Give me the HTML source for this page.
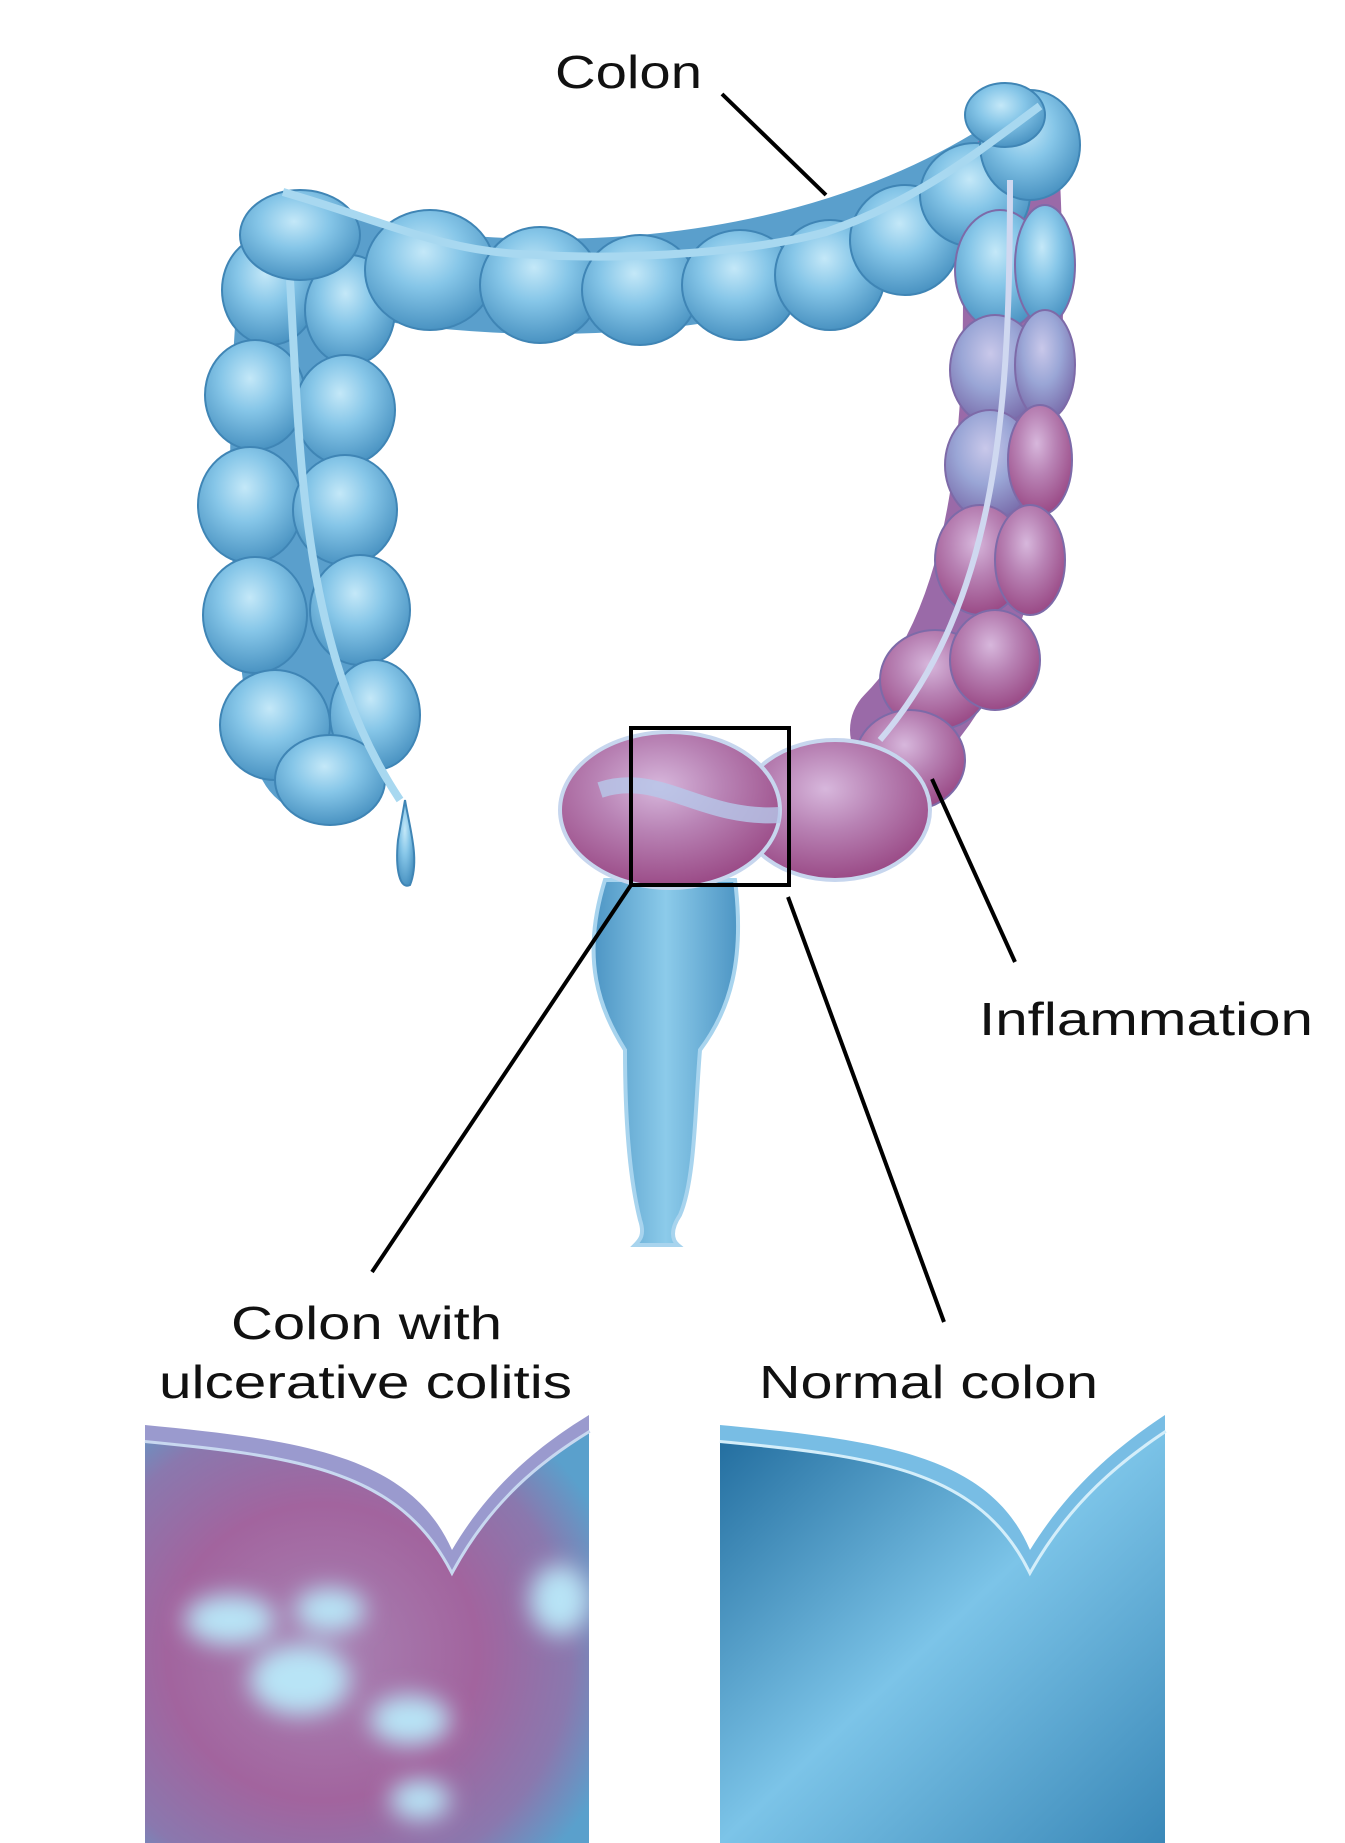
<!DOCTYPE html>
<html><head><meta charset="utf-8"><style>
html,body{margin:0;padding:0;background:#fff}
svg{display:block}
text{font-family:"Liberation Sans",sans-serif;fill:#111}
</style></head><body>
<svg width="1345" height="1843" viewBox="0 0 1345 1843" xmlns="http://www.w3.org/2000/svg">
<defs>
<radialGradient id="b" cx="45%" cy="35%" r="65%">
<stop offset="0" stop-color="#c4e8f8"/><stop offset="0.45" stop-color="#86c6e8"/><stop offset="1" stop-color="#4a93c2"/></radialGradient>
<radialGradient id="p" cx="45%" cy="35%" r="65%">
<stop offset="0" stop-color="#d7b7dc"/><stop offset="0.45" stop-color="#b882b4"/><stop offset="1" stop-color="#9a4a86"/></radialGradient>
<radialGradient id="m" cx="45%" cy="35%" r="65%">
<stop offset="0" stop-color="#c9c8ea"/><stop offset="0.5" stop-color="#9aa6d6"/><stop offset="1" stop-color="#7a6eac"/></radialGradient>
<linearGradient id="rg" x1="0" y1="0" x2="1" y2="0">
<stop offset="0" stop-color="#4d95c4"/><stop offset="0.5" stop-color="#8ccbea"/><stop offset="1" stop-color="#4d95c4"/></linearGradient>
<linearGradient id="np" x1="0" y1="0" x2="1" y2="1">
<stop offset="0" stop-color="#1f6a9c"/><stop offset="0.5" stop-color="#7cc4e8"/><stop offset="1" stop-color="#3a88b8"/></linearGradient>
<radialGradient id="up" cx="40%" cy="55%" r="70%">
<stop offset="0" stop-color="#a883b4"/><stop offset="0.5" stop-color="#a2649e"/><stop offset="0.8" stop-color="#8a78ae"/><stop offset="1" stop-color="#5aa0cc"/></radialGradient>
<filter id="bl"><feGaussianBlur stdDeviation="12"/></filter>
<clipPath id="c1"><path d="M145 1440 C300 1455 400 1470 452 1570 C490 1500 540 1460 589 1430 L589 1843 L145 1843 Z"/></clipPath>
<clipPath id="c2"><path d="M720 1440 C880 1455 980 1470 1030 1570 C1070 1500 1120 1460 1165 1430 L1165 1843 L720 1843 Z"/></clipPath>
</defs>

<!-- tube backgrounds -->
<path d="M305 270 C290 420 290 600 320 750" stroke="#5a9fcc" stroke-width="130" fill="none" stroke-linecap="round"/>
<path d="M320 260 C500 305 800 305 1020 160" stroke="#5a9fcc" stroke-width="95" fill="none" stroke-linecap="round"/>
<path d="M1010 180 C1020 400 1010 620 900 730" stroke="#9a6aa8" stroke-width="100" fill="none" stroke-linecap="round"/>
<!-- left ascending column -->
<g stroke="#3f85b5" stroke-width="2">
<ellipse cx="270" cy="290" rx="48" ry="55" fill="url(#b)"/>
<ellipse cx="350" cy="310" rx="45" ry="55" fill="url(#b)"/>
<ellipse cx="255" cy="395" rx="50" ry="55" fill="url(#b)"/>
<ellipse cx="345" cy="410" rx="50" ry="55" fill="url(#b)"/>
<ellipse cx="250" cy="505" rx="52" ry="58" fill="url(#b)"/>
<ellipse cx="345" cy="510" rx="52" ry="55" fill="url(#b)"/>
<ellipse cx="255" cy="615" rx="52" ry="58" fill="url(#b)"/>
<ellipse cx="360" cy="610" rx="50" ry="55" fill="url(#b)"/>
<ellipse cx="275" cy="725" rx="55" ry="55" fill="url(#b)"/>
<ellipse cx="375" cy="715" rx="45" ry="55" fill="url(#b)"/>
<ellipse cx="330" cy="780" rx="55" ry="45" fill="url(#b)"/>
<path d="M405 800 C410 830 420 860 410 885 C400 890 395 870 398 840 Z" fill="url(#b)"/>
</g>
<path d="M290 280 C300 450 300 650 400 800" stroke="#a8d8f0" stroke-width="8" fill="none"/>
<!-- transverse -->
<g stroke="#3f85b5" stroke-width="2">
<ellipse cx="300" cy="235" rx="60" ry="45" fill="url(#b)"/>
<ellipse cx="430" cy="270" rx="65" ry="60" fill="url(#b)"/>
<ellipse cx="540" cy="285" rx="60" ry="58" fill="url(#b)"/>
<ellipse cx="640" cy="290" rx="58" ry="55" fill="url(#b)"/>
<ellipse cx="740" cy="285" rx="58" ry="55" fill="url(#b)"/>
<ellipse cx="830" cy="275" rx="55" ry="55" fill="url(#b)"/>
<ellipse cx="905" cy="240" rx="55" ry="55" fill="url(#b)"/>
<ellipse cx="975" cy="195" rx="55" ry="52" fill="url(#b)"/>
<ellipse cx="1030" cy="145" rx="50" ry="55" fill="url(#b)"/>
<ellipse cx="1005" cy="115" rx="40" ry="32" fill="url(#b)"/>
</g>
<path d="M283 192 C380 220 440 250 520 254 C640 262 760 250 826 232 C920 200 980 150 1040 106" stroke="#a8d8f0" stroke-width="8" fill="none"/>
<!-- right descending -->
<g stroke="#7d6aa8" stroke-width="2">
<ellipse cx="1000" cy="270" rx="45" ry="60" fill="url(#b)"/>
<ellipse cx="1045" cy="265" rx="30" ry="60" fill="url(#b)"/>
<ellipse cx="995" cy="370" rx="45" ry="55" fill="url(#m)"/>
<ellipse cx="1045" cy="365" rx="30" ry="55" fill="url(#m)"/>
<ellipse cx="990" cy="465" rx="45" ry="55" fill="url(#m)"/>
<ellipse cx="1040" cy="460" rx="32" ry="55" fill="url(#p)"/>
<ellipse cx="980" cy="560" rx="45" ry="55" fill="url(#p)"/>
<ellipse cx="1030" cy="560" rx="35" ry="55" fill="url(#p)"/>
<ellipse cx="935" cy="680" rx="55" ry="50" fill="url(#p)"/>
<ellipse cx="995" cy="660" rx="45" ry="50" fill="url(#p)"/>
<ellipse cx="910" cy="760" rx="55" ry="50" fill="url(#p)"/>
</g>
<path d="M1010 180 C1010 400 1000 600 880 740" stroke="#cfd8f0" stroke-width="6" fill="none"/>
<!-- rectum -->
<path d="M605 880 C580 960 600 1010 625 1050 C625 1120 630 1180 640 1220 C645 1235 640 1240 635 1245 L678 1245 C672 1240 670 1230 680 1215 C695 1180 695 1110 700 1050 C730 1010 745 960 735 880 Z" fill="url(#rg)" stroke="#a8d4ee" stroke-width="4"/>
<!-- sigmoid -->
<g stroke="#c7d6ee" stroke-width="4">
<ellipse cx="835" cy="810" rx="95" ry="70" fill="url(#p)"/>
<ellipse cx="670" cy="810" rx="110" ry="78" fill="url(#p)"/>
</g>
<path d="M600 790 C660 770 700 820 780 815" stroke="#b6c8ea" stroke-width="16" fill="none" opacity="0.8"/>
<!-- box and lines -->
<rect x="631" y="728" width="158" height="157" fill="none" stroke="#000" stroke-width="4"/>
<g stroke="#000" stroke-width="4">
<line x1="722" y1="94" x2="826" y2="195"/>
<line x1="631" y1="885" x2="372" y2="1272"/>
<line x1="788" y1="897" x2="944" y2="1322"/>
<line x1="932" y1="779" x2="1015" y2="962"/>
</g>
<text x="555" y="88" font-size="46" textLength="147" lengthAdjust="spacingAndGlyphs">Colon</text>
<text x="979" y="1035" font-size="46" textLength="334" lengthAdjust="spacingAndGlyphs">Inflammation</text>
<text x="231" y="1339" font-size="46" textLength="271" lengthAdjust="spacingAndGlyphs">Colon with</text>
<text x="159" y="1398" font-size="46" textLength="413" lengthAdjust="spacingAndGlyphs">ulcerative colitis</text>
<text x="759" y="1398" font-size="46" textLength="339" lengthAdjust="spacingAndGlyphs">Normal colon</text>
<!-- left panel -->
<g clip-path="url(#c1)">
<rect x="145" y="1420" width="444" height="423" fill="url(#up)"/>
<g filter="url(#bl)" fill="#b8e4f6">
<ellipse cx="230" cy="1620" rx="45" ry="25"/>
<ellipse cx="330" cy="1610" rx="35" ry="22"/>
<ellipse cx="300" cy="1680" rx="50" ry="35"/>
<ellipse cx="410" cy="1720" rx="40" ry="25"/>
<ellipse cx="560" cy="1600" rx="30" ry="35"/>
<ellipse cx="420" cy="1800" rx="30" ry="20"/>
</g>
</g>
<path d="M145 1440 C300 1455 400 1470 452 1570 C490 1500 540 1460 589 1430" fill="none" stroke="#c8d8f0" stroke-width="6"/>
<path d="M145 1425 C300 1440 410 1455 452 1550 C490 1485 540 1445 589 1415 L589 1430 C540 1460 490 1500 452 1570 C400 1470 300 1455 145 1440 Z" fill="#9a9ace"/>
<!-- right panel -->
<g clip-path="url(#c2)">
<rect x="720" y="1420" width="445" height="423" fill="url(#np)"/>
</g>
<path d="M720 1440 C880 1455 980 1470 1030 1570 C1070 1500 1120 1460 1165 1430" fill="none" stroke="#d4eefa" stroke-width="6"/>
<path d="M720 1425 C880 1440 990 1455 1030 1550 C1070 1485 1120 1445 1165 1415 L1165 1430 C1120 1460 1070 1500 1030 1570 C980 1470 880 1455 720 1440 Z" fill="#78bde4"/>
</svg>
</body></html>
